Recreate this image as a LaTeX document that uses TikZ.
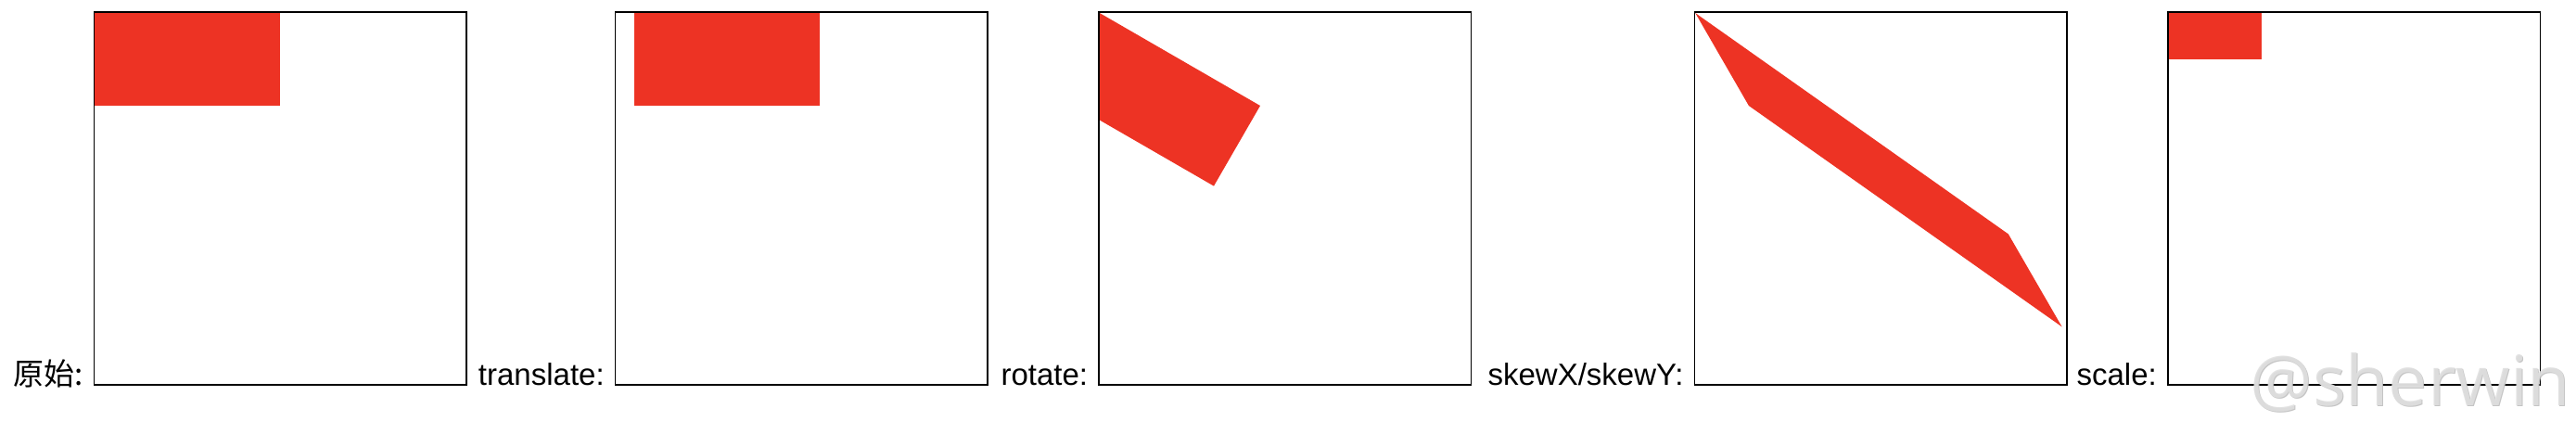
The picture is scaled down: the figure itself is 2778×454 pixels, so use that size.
\documentclass[tikz,border=0pt]{standalone}
\usepackage{fontspec}
\setmainfont{Liberation Sans}
\newfontfamily\cjk{Noto Sans CJK SC}
\newfontfamily\wmfont{Open Sans}
\definecolor{boxred}{RGB}{237,51,36}
\definecolor{wmgray}{RGB}{224,224,224}
\definecolor{wmedge}{RGB}{190,190,190}
\begin{document}
\begin{tikzpicture}[x=1pt,y=-1pt,
  frame/.style={draw=black,line width=1.6pt},
  redshape/.style={fill=boxred},
  lbl/.style={anchor=base east,inner sep=0pt,font=\fontsize{33}{40}\selectfont},
  wmstyle/.style={anchor=base west,inner sep=0pt,font=\wmfont\fontsize{75}{80}\selectfont}]
\useasboundingbox (0,0) rectangle (2778,454);
% box 1: original
\begin{scope}[shift={(102.2,14)}]
  \fill[redshape] (0,0) rectangle (200,100);
  \draw[frame] (-0.8,-0.8) rectangle (400.8,400.8);
  \coordinate (o1) at (-12.5,401);
\end{scope}
% box 2: translate
\begin{scope}[shift={(664.4,14)}]
  \fill[redshape] (20,0) rectangle (220,100);
  \draw[frame] (-0.8,-0.8) rectangle (400.8,400.8);
  \coordinate (o2) at (-12.5,401);
\end{scope}
% box 3: rotate
\begin{scope}[shift={(1185.8,14)}]
  \fill[redshape] (0,0) -- (173.2,100) -- (123.2,186.6) -- (0,115.5) -- cycle;
  \draw[frame] (-0.8,-0.8) rectangle (400.8,400.8);
  \coordinate (o3) at (-12.5,401);
\end{scope}
% box 4: skew
\begin{scope}[shift={(1828.2,14)}]
  \fill[redshape] (0,0) -- (337.6,238.4) -- (395.4,338.4) -- (57.7,100) -- cycle;
  \draw[frame] (-0.8,-0.8) rectangle (400.8,400.8);
  \coordinate (o4) at (-12.5,401);
\end{scope}
% box 5: scale
\begin{scope}[shift={(2338.5,14)}]
  \fill[redshape] (0,0) rectangle (100,50);
  \draw[frame] (-0.8,-0.8) rectangle (400.8,400.8);
  \coordinate (o5) at (-12.5,401);
\end{scope}
\node[lbl] (l1) at (o1) {\cjk 原始:};
\node[lbl] (l2) at (o2) {translate:};
\node[lbl] (l3) at (o3) {rotate:};
\node[lbl] (l4) at (o4) {skewX/skewY:};
\node[lbl] (l5) at (o5) {scale:};
\node[wmstyle,text=wmedge,text opacity=0.9] (wmshadow) at (2427.5,438.5) {@sherwin};
\node[wmstyle,text=wmgray,text opacity=0.9] (wm) at (2426.5,437.5) {@sherwin};
\end{tikzpicture}
\end{document}
